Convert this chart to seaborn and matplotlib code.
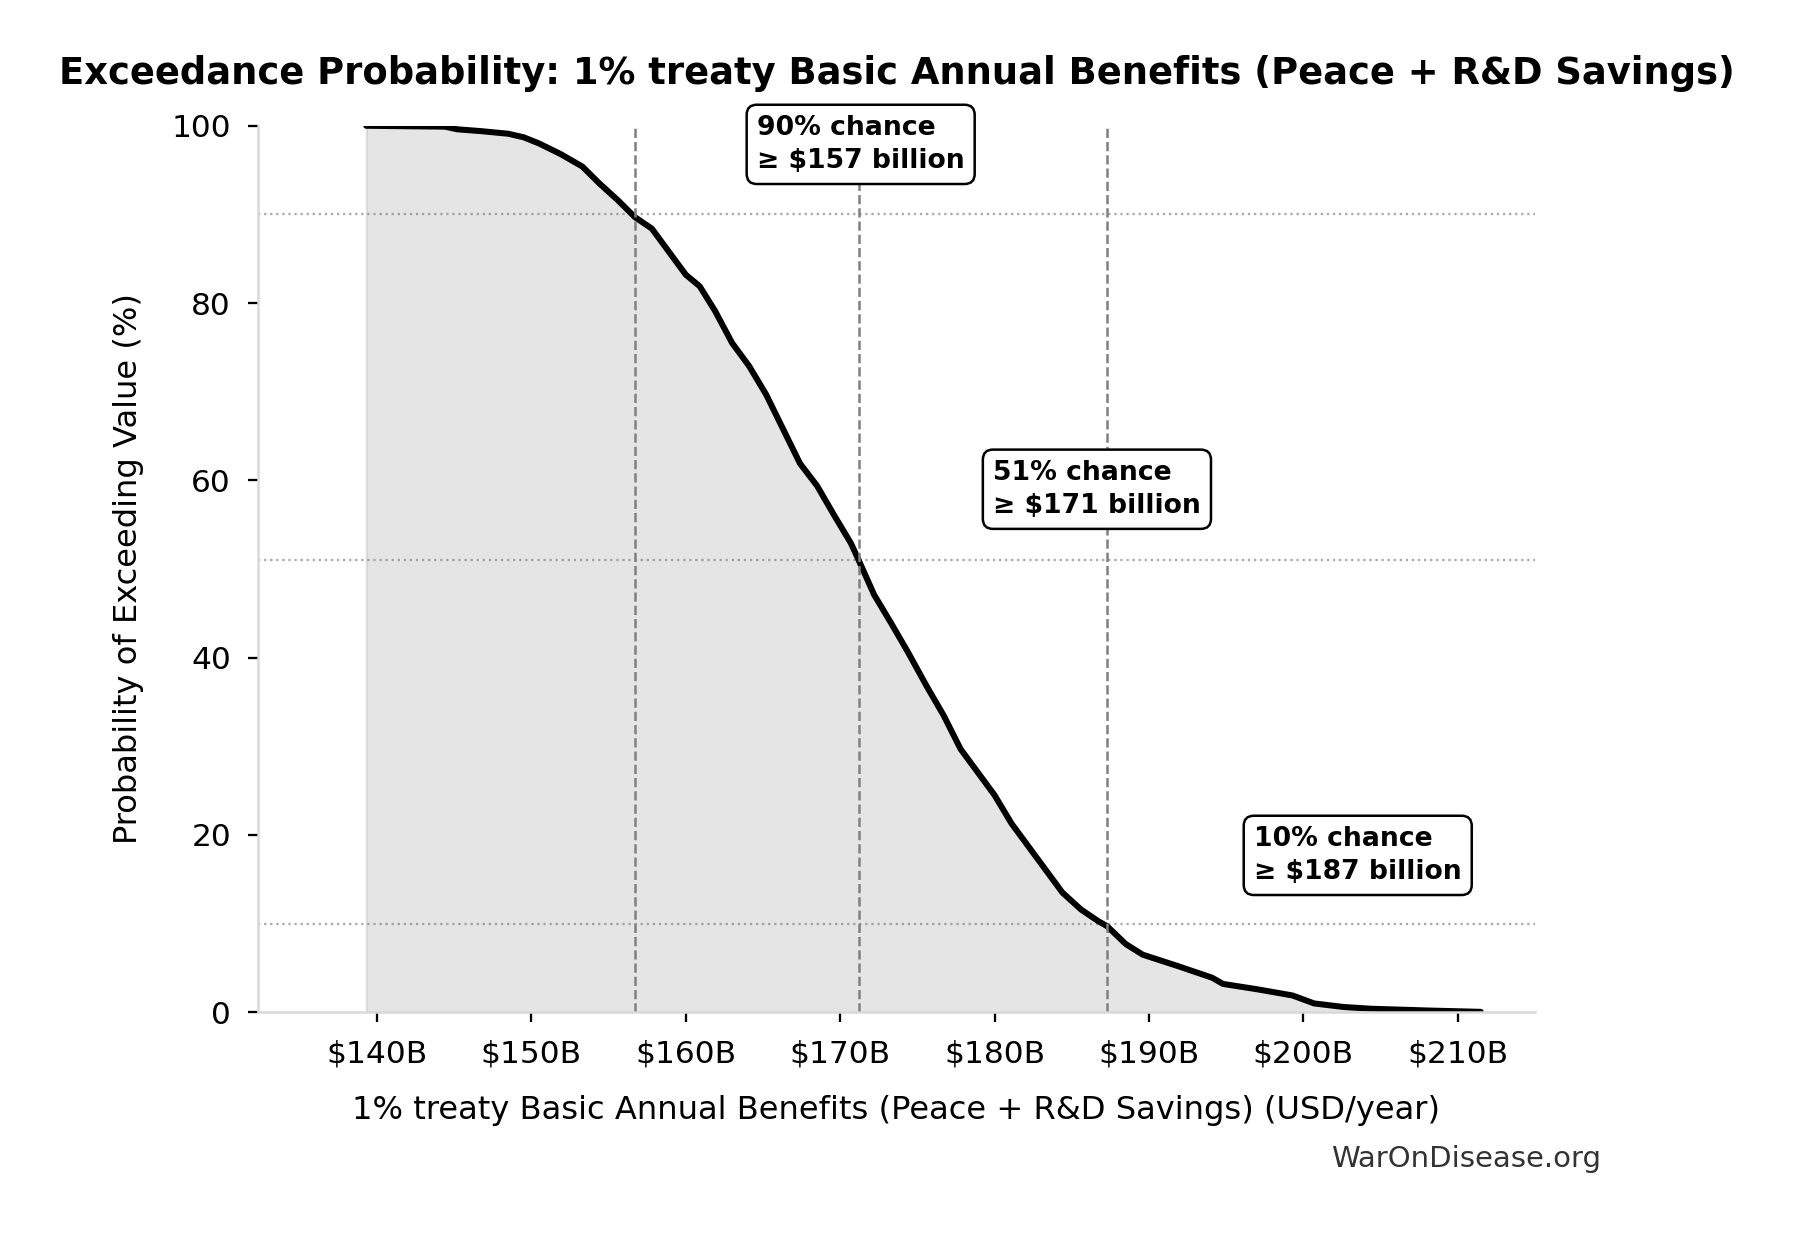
import numpy as np
import pandas as pd
import matplotlib
matplotlib.use("Agg")
import matplotlib.pyplot as plt
import matplotlib.ticker as mticker
import seaborn as sns

# exceedance curve (USD billions/year, % chance of exceeding)
benefit_bn = [139.3, 144.4, 145.2, 146.7, 148.5, 149.5, 150.5, 151.9, 153.3, 154.4,
              155.6, 156.7, 157.8, 158.9, 160.0, 160.9, 161.9, 163.0, 164.1, 165.2,
              166.3, 167.4, 168.5, 169.6, 170.7, 171.2, 172.2, 173.3, 174.4, 175.6,
              176.7, 177.8, 178.9, 180.0, 181.1, 182.2, 183.3, 184.4, 185.6, 186.7,
              187.3, 188.5, 189.6, 191.9, 194.1, 194.8, 197.0, 199.3, 200.7, 202.6,
              204.4, 208.1, 211.5]
exceed_pct = [100.0, 99.9, 99.6, 99.4, 99.1, 98.7, 98.0, 96.8, 95.4, 93.5,
              91.6, 89.7, 88.4, 85.8, 83.2, 81.9, 79.1, 75.5, 72.9, 69.7,
              65.8, 61.9, 59.4, 56.1, 52.9, 51.0, 47.1, 43.9, 40.6, 36.8,
              33.5, 29.7, 27.1, 24.5, 21.3, 18.7, 16.1, 13.5, 11.6, 10.3,
              9.7, 7.7, 6.5, 5.2, 3.9, 3.2, 2.6, 1.9, 1.0, 0.6,
              0.4, 0.2, 0.05]

# marked percentiles
marker_pct = [90, 51, 10]
marker_value = [156.7, 171.2, 187.3]
marker_label = ["90% chance\n≥ $157 billion", "51% chance\n≥ $171 billion", "10% chance\n≥ $187 billion"]
label_pos = [(164.6, 97.9), (179.9, 59.0), (196.8, 17.7)]

df = pd.DataFrame({"benefit": benefit_bn, "exceed": exceed_pct})

sns.set_style("ticks")
plt.rcParams['font.family'] = ['DejaVu Sans']
plt.rcParams['text.color'] = 'black'
plt.rcParams['axes.labelcolor'] = 'black'
plt.rcParams['xtick.color'] = 'black'
plt.rcParams['ytick.color'] = 'black'

fig = plt.figure(figsize=(1793 / 150, 1233 / 150), dpi=150)
ax = fig.add_axes([0.144, 0.179, 0.712, 0.719])

ax.fill_between(df["benefit"], df["exceed"], color="gray", alpha=0.2)
sns.lineplot(data=df, x="benefit", y="exceed", color="black", linewidth=2.9, ax=ax)

for p, v, txt, (tx, ty) in zip(marker_pct, marker_value, marker_label, label_pos):
    ax.axhline(p, color="#aaaaaa", linestyle=":", linewidth=1.1, zorder=0)
    ax.axvline(v, ymax=1.0, color="gray", linestyle="--", linewidth=1.2)
    ax.text(tx, ty, txt, ha="left", va="center", fontsize=12.8, fontweight="bold",
            linespacing=1.35,
            bbox=dict(boxstyle="round,pad=0.38", facecolor="white", edgecolor="black", linewidth=1.2))

ax.set_xlim(132.3, 215.0)
ax.set_ylim(0, 100)
ax.xaxis.set_major_locator(mticker.MultipleLocator(10))
ax.xaxis.set_major_formatter(mticker.FuncFormatter(lambda x, _: f"${x:.0f}B"))
ax.yaxis.set_major_locator(mticker.MultipleLocator(20))

for s in ["top", "right"]:
    ax.spines[s].set_visible(False)
for s in ["left", "bottom"]:
    ax.spines[s].set_color("#d9d9d9")
    ax.spines[s].set_linewidth(1.2)
ax.tick_params(axis="both", labelsize=15, length=5, width=1.1, color="black", pad=8)

ax.set_title("Exceedance Probability: 1% treaty Basic Annual Benefits (Peace + R&D Savings)",
             fontsize=17.7, fontweight="bold", pad=20)
ax.set_xlabel("1% treaty Basic Annual Benefits (Peace + R&D Savings) (USD/year)", fontsize=15.4, labelpad=13)
ax.set_ylabel("Probability of Exceeding Value (%)", fontsize=15.4, labelpad=13)

fig.text(0.893, 0.060, "WarOnDisease.org", ha="right", va="center", fontsize=14, color="#333333")

fig.savefig("out.png", dpi=150)
